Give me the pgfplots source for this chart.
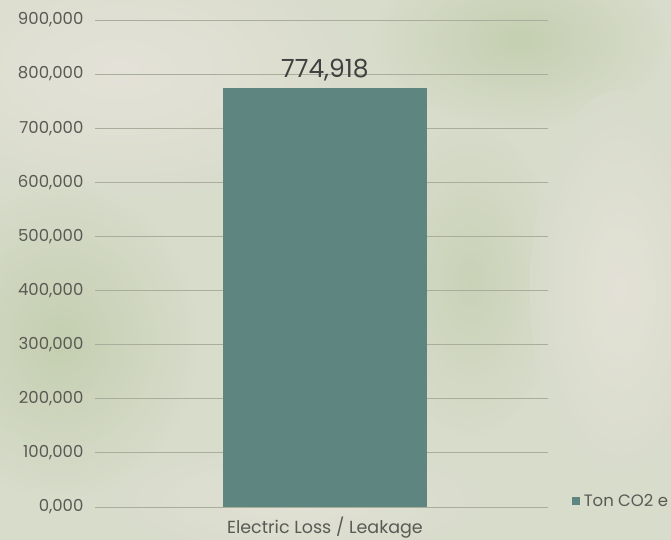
\documentclass[border=0pt]{standalone}
\usepackage{pgfplots}
\pgfplotsset{compat=1.18}
\usepackage{fontspec}
\setmainfont{Poppins}
\definecolor{bgbase}{HTML}{D8DCCB}
\definecolor{bglight}{HTML}{E6E3DA}
\definecolor{bggreen}{HTML}{BFCCAA}
\definecolor{barc}{HTML}{5F8580}
\definecolor{gridc}{HTML}{A9AD9C}
\definecolor{txt}{HTML}{5A5A55}
\begin{document}
\begin{tikzpicture}[x=1pt,y=1pt]
\useasboundingbox (0,0) rectangle (671,540);
\clip (0,0) rectangle (671,540);
\fill[bgbase] (0,0) rectangle (671,540);
\shade[inner color=bglight, outer color=bgbase, opacity=0.9] (120,470) ellipse (260 and 140);
\shade[inner color=bggreen, outer color=bgbase, opacity=0.8] (60,200) ellipse (140 and 160);
\shade[inner color=bggreen, outer color=bgbase, opacity=0.8] (520,500) ellipse (150 and 90);
\shade[inner color=bggreen, outer color=bgbase, opacity=0.6] (470,260) ellipse (90 and 160);
\shade[inner color=bglight, outer color=bgbase, opacity=0.8] (620,250) ellipse (90 and 200);
\shade[inner color=bglight, outer color=bgbase, opacity=0.7] (300,40) ellipse (200 and 60);
\begin{axis}[
  at={(95pt,33pt)}, anchor=south west,
  scale only axis,
  width=453pt, height=487pt,
  xmin=-1, xmax=0.97,
  ymin=0, ymax=900000,
  scaled y ticks=false,
  axis line style={draw=none},
  ytick={0,100000,...,900000},
  yticklabels={0{,}000,100{,}000,200{,}000,300{,}000,400{,}000,500{,}000,600{,}000,700{,}000,800{,}000,900{,}000},
  xtick={0},
  xticklabels={Electric Loss / Leakage},
  major tick length=0pt,
  ymajorgrids,
  grid style={gridc, line width=0.8pt},
  ticklabel style={font=\fontsize{16.5}{18}\selectfont, text=txt},
  /pgf/number format/assume math mode=true,
  yticklabel style={xshift=-8pt},
  xticklabel style={font=\fontsize{17.5}{20}\selectfont, text=txt, yshift=-6pt},
  legend style={at={(1.052,0.012)}, anchor=west, draw=none, fill=none,
    font=\fontsize{16.5}{18}\selectfont, text=txt, inner xsep=0pt},
  legend image code/.code={\fill[barc] (0pt,-4pt) rectangle (8pt,4pt);},
  nodes near coords={774{,}918},
  nodes near coords style={font=\fontsize{25}{28}\selectfont, text=black!75, yshift=3pt},
  clip=false,
]
\addplot[ybar, bar width=204pt, fill=barc, draw=none] coordinates {(0,774918)};
\addlegendentry{\hspace{2pt}Ton CO2 e}
\end{axis}
\end{tikzpicture}
\end{document}
